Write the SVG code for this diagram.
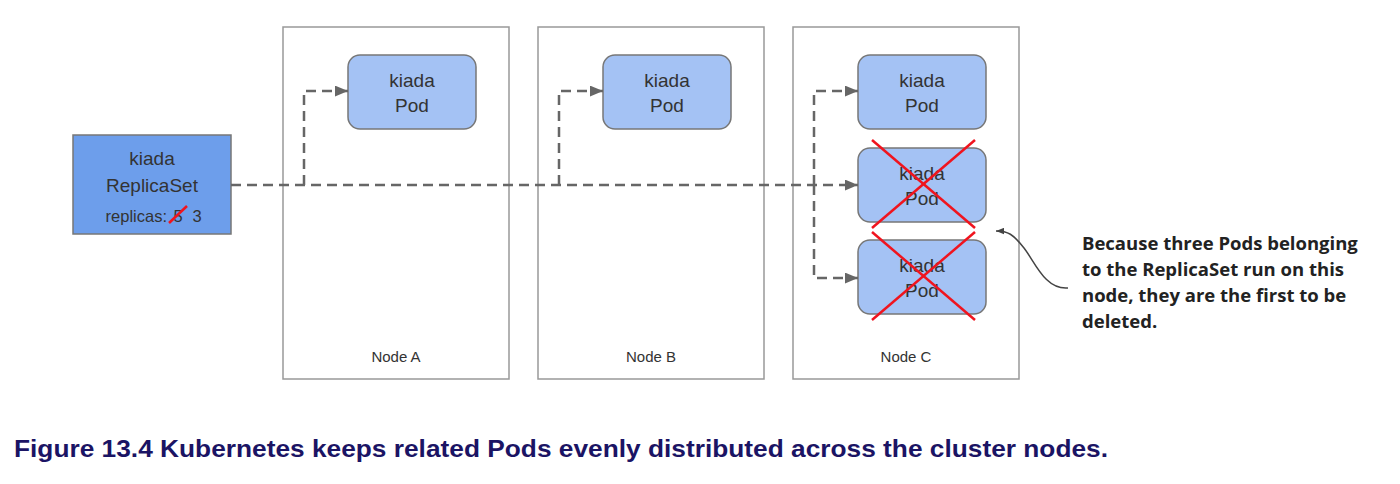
<svg xmlns="http://www.w3.org/2000/svg" width="1400" height="484" viewBox="0 0 1400 484">
<style>
.node{fill:#fff;stroke:#999;stroke-width:1.5}
.pod{fill:#a4c2f4;stroke:#777;stroke-width:1.5}
.t{font-family:"Liberation Sans",Arial,sans-serif;fill:#333;text-anchor:middle}
.conn{fill:none;stroke:#666;stroke-width:2.5;stroke-dasharray:10 6}
.x{stroke:#f0141e;stroke-width:2.5}
.note{font-family:"Open Sans","Liberation Sans",sans-serif;font-weight:bold;font-size:18.5px;fill:#222}
</style>
<defs>
<marker id="ah" viewBox="0 0 12 10" refX="12" refY="5" markerWidth="13" markerHeight="11" markerUnits="userSpaceOnUse" orient="auto">
<path d="M0,0 L12,5 L0,10 z" fill="#666"/>
</marker>
<marker id="ah2" viewBox="0 0 10 8" refX="10" refY="4" markerWidth="8" markerHeight="7" markerUnits="userSpaceOnUse" orient="auto">
<path d="M0,0 L10,4 L0,8 z" fill="#444"/>
</marker>
</defs>
<rect width="1400" height="484" fill="#fff"/>
<g id="nodeA"><rect class="node" x="283" y="27" width="226" height="352"/><text class="t" x="396" y="362" font-size="15">Node A</text></g>
<g id="nodeB"><rect class="node" x="538" y="27" width="226" height="352"/><text class="t" x="651" y="362" font-size="15">Node B</text></g>
<g id="nodeC"><rect class="node" x="793" y="27" width="226" height="352"/><text class="t" x="906" y="362" font-size="15">Node C</text></g>
<g id="replicaset">
<rect x="73" y="135" width="158" height="99" fill="#6d9eeb" stroke="#777" stroke-width="1.5"/>
<text class="t" x="152" y="165" font-size="19">kiada</text>
<text class="t" x="152" y="192" font-size="19">ReplicaSet</text>
<text class="t" x="167" y="222" font-size="16.5" style="text-anchor:end">replicas:</text>
<text class="t" x="178" y="222" font-size="16.5">5</text>
<text class="t" x="197" y="222" font-size="16.5">3</text>
<line class="x" x1="169" y1="223" x2="187" y2="206" stroke-width="1.5"/>
</g>
<g id="podA"><rect class="pod" x="348" y="55" width="128" height="74" rx="12"/><text class="t" x="412" y="87" font-size="19">kiada</text><text class="t" x="412" y="112" font-size="19">Pod</text></g>
<g id="podB"><rect class="pod" x="603" y="55" width="128" height="74" rx="12"/><text class="t" x="667" y="87" font-size="19">kiada</text><text class="t" x="667" y="112" font-size="19">Pod</text></g>
<g id="podC1"><rect class="pod" x="858" y="55" width="128" height="74" rx="12"/><text class="t" x="922" y="87" font-size="19">kiada</text><text class="t" x="922" y="112" font-size="19">Pod</text></g>
<g id="podC2"><rect class="pod" x="858" y="148" width="128" height="74" rx="12"/><text class="t" x="922" y="180" font-size="19">kiada</text><text class="t" x="922" y="205" font-size="19">Pod</text>
<line class="x" x1="872" y1="140" x2="975" y2="228"/><line class="x" x1="975" y1="140" x2="872" y2="228"/></g>
<g id="podC3"><rect class="pod" x="858" y="240" width="128" height="74" rx="12"/><text class="t" x="922" y="272" font-size="19">kiada</text><text class="t" x="922" y="297" font-size="19">Pod</text>
<line class="x" x1="872" y1="232" x2="975" y2="320"/><line class="x" x1="975" y1="232" x2="872" y2="320"/></g>
<g id="connectors">
<path class="conn" d="M231,185 H858" marker-end="url(#ah)"/>
<path class="conn" d="M304,185 V91 H348" marker-end="url(#ah)"/>
<path class="conn" d="M559,185 V91 H603" marker-end="url(#ah)"/>
<path class="conn" d="M814,185 V91 H858" marker-end="url(#ah)"/>
<path class="conn" d="M814,185 V278 H858" marker-end="url(#ah)"/>
<path d="M1068,288 C1045,290 1035,262 1024,248 S1008,231 996,231" fill="none" stroke="#444" stroke-width="1.5" marker-end="url(#ah2)"/>
</g>
<g id="note">
<text class="note" x="1082" y="250">Because three Pods belonging</text>
<text class="note" x="1082" y="276">to the ReplicaSet run on this</text>
<text class="note" x="1082" y="302">node, they are the first to be</text>
<text class="note" x="1082" y="328">deleted.</text>
</g>
<text x="14" y="457" font-family="Liberation Sans,Arial,sans-serif" font-weight="bold" font-size="24" fill="#1b1464" textLength="1094" lengthAdjust="spacingAndGlyphs">Figure 13.4 Kubernetes keeps related Pods evenly distributed across the cluster nodes.</text>
</svg>
